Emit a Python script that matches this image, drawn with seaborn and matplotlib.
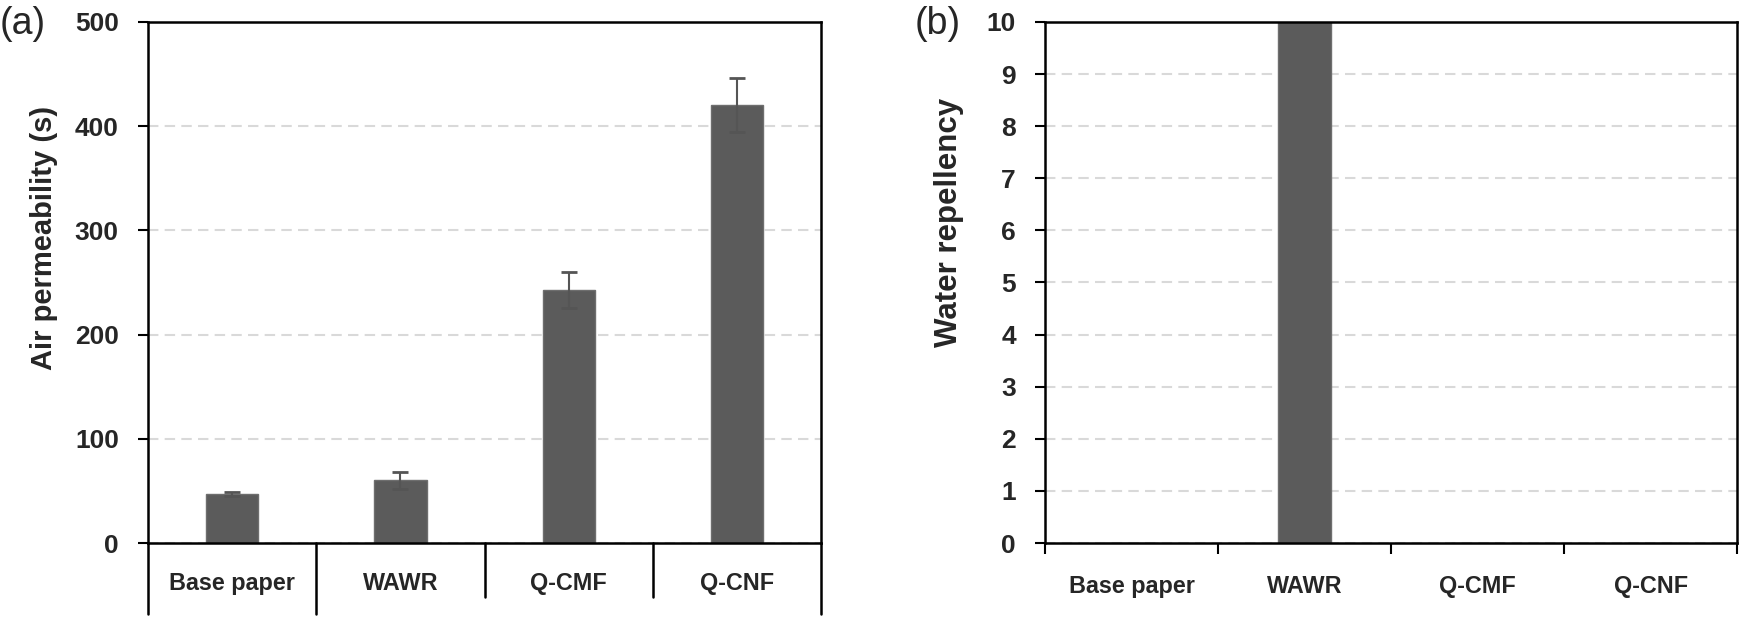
import matplotlib
matplotlib.use('Agg')
import matplotlib.pyplot as plt
import seaborn as sns
import numpy as np
import pandas as pd

# data
categories = ['Base paper', 'WAWR', 'Q-CMF', 'Q-CNF']
air_perm = [47, 60, 243, 420]
air_perm_err = [2, 8, 17, 26]
water_rep = [0, 10, 0, 0]

sns.set_style('white')
plt.rcParams['font.family'] = ['Liberation Sans', 'DejaVu Sans']

bar_col = '#5b5b5b'
grid_col = '#d9d9d9'
ytick_font = dict(family=['Liberation Sans', 'DejaVu Sans'], weight='bold', size=19)
xtick_font = dict(family=['Liberation Sans', 'DejaVu Sans'], weight='bold', size=16.8)

fig = plt.figure(figsize=(17.49, 6.21), dpi=100)
ax1 = fig.add_axes([0.0846, 0.1256, 0.385, 0.839])
ax2 = fig.add_axes([0.5975, 0.1256, 0.3957, 0.839])

df1 = pd.DataFrame({'cat': categories, 'val': air_perm})
df2 = pd.DataFrame({'cat': categories, 'val': water_rep})

sns.barplot(data=df1, x='cat', y='val', ax=ax1, color=bar_col, width=0.31,
            saturation=1, edgecolor='#6e6e6e', linewidth=1)
# error bars from the bar centres
xs = [p.get_x() + p.get_width() / 2 for p in ax1.patches]
ax1.errorbar(xs, air_perm, yerr=air_perm_err, fmt='none', ecolor='#555555',
             elinewidth=1.5, capsize=6, capthick=2, zorder=3)

sns.barplot(data=df2, x='cat', y='val', ax=ax2, color=bar_col, width=0.31,
            saturation=1, edgecolor='#6e6e6e', linewidth=1)

for ax in (ax1, ax2):
    ax.set_xlim(-0.5, len(categories) - 0.5)
    for s in ax.spines.values():
        s.set_visible(True)
        s.set_color('black')
        s.set_linewidth(1.8)
    ax.set_axisbelow(True)
    ax.yaxis.grid(True, color=grid_col, linestyle=(0, (5, 3)), linewidth=1.5)
    ax.xaxis.grid(False)
    ax.set_xlabel('')
    ax.tick_params(axis='y', which='major', direction='out', length=7, width=1.5,
                   color='black', left=True, pad=14)

bounds = np.arange(len(categories) + 1) - 0.5

# left panel: y axis and table-like category separators
ax1.set_ylim(0, 500)
ax1.set_yticks(np.arange(0, 501, 100))
ax1.set_yticklabels([str(v) for v in range(0, 501, 100)], **ytick_font)
ax1.set_xticks(range(len(categories)))
ax1.set_xticklabels(categories, **xtick_font)
ax1.tick_params(axis='x', length=0, pad=21)
tr = ax1.get_xaxis_transform()
for i, b in enumerate(bounds):
    low = -0.137 if i in (0, 1, len(bounds) - 1) else -0.104
    ax1.plot([b, b], [0, low], transform=tr, color='black', lw=1.8, clip_on=False)
ax1.set_ylabel('Air permeability (s)', fontsize=21, fontweight='bold', labelpad=12, y=0.585)

# right panel
ax2.set_ylim(0, 10)
ax2.set_yticks(range(0, 11))
ax2.set_yticklabels([str(v) for v in range(0, 11)], **ytick_font)
ax2.set_xticks(range(len(categories)))
ax2.set_xticklabels(categories, **xtick_font)
ax2.set_xticks(bounds, minor=True)
ax2.tick_params(axis='x', which='major', length=0, pad=23)
ax2.tick_params(axis='x', which='minor', direction='out', length=8, width=1.5,
                color='black', bottom=True)
ax2.set_ylabel('Water repellency', fontsize=22.5, fontweight='bold', labelpad=16, y=0.615)

fig.text(0.0, 0.99, '(a)', fontsize=27, ha='left', va='top')
fig.text(0.523, 0.99, '(b)', fontsize=27, ha='left', va='top')

fig.savefig('out.png', dpi=100)
